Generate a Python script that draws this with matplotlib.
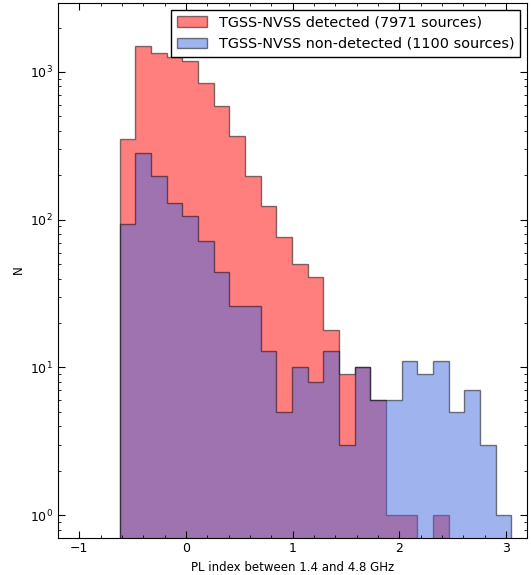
"""
PL index histogram, detected vs non-detected
"""
import numpy as np
import matplotlib
matplotlib.use("Agg")
import matplotlib.pyplot as plt
from matplotlib.ticker import MultipleLocator

# bin edges of the PL index histogram
edges = np.linspace(-0.62, 3.05, 26)

# counts per bin
detected = [354, 1500, 1335, 1255, 1190, 847, 586, 370, 198, 123,
            76, 50, 41, 18, 9, 10, 6, 1, 1, 0, 1, 0, 0, 0, 0]
nondetected = [93, 285, 198, 129, 106, 72, 44, 26, 26, 13,
               5, 10, 8, 13, 3, 10, 6, 6, 11, 9, 11, 5, 7, 3, 1]

label_det = "TGSS-NVSS detected (7971 sources)"
label_non = "TGSS-NVSS non-detected (1100 sources)"

centers = 0.5 * (edges[:-1] + edges[1:])

fig = plt.figure(figsize=(5.31, 5.75), dpi=100)
ax = fig.add_axes([0.109, 0.065, 0.884, 0.9305])

ax.hist(centers, bins=edges, weights=detected, histtype="stepfilled",
        color="red", alpha=0.5, edgecolor="k", lw=1.0, label=label_det)
ax.hist(centers, bins=edges, weights=nondetected, histtype="stepfilled",
        color="royalblue", alpha=0.5, edgecolor="k", lw=1.0, label=label_non)

ax.set_yscale("log")
ax.set_xlim(-1.2, 3.2)
ax.set_ylim(0.705, 2950)

ax.xaxis.set_major_locator(MultipleLocator(1))
ax.xaxis.set_minor_locator(MultipleLocator(0.2))
ax.tick_params(which="both", direction="in", top=True, right=True, labelsize=9)
ax.tick_params(which="major", length=5)
ax.tick_params(which="minor", length=2.5)

ax.set_xlabel("PL index between 1.4 and 4.8 GHz", fontsize=8.5)
ax.set_ylabel("N", fontsize=8.5)

leg = ax.legend(loc="upper right", fontsize=10.4, fancybox=False,
                framealpha=1, borderaxespad=0.5, handlelength=2.1)
leg.get_frame().set_edgecolor("black")

fig.savefig("out.png", dpi=100)
